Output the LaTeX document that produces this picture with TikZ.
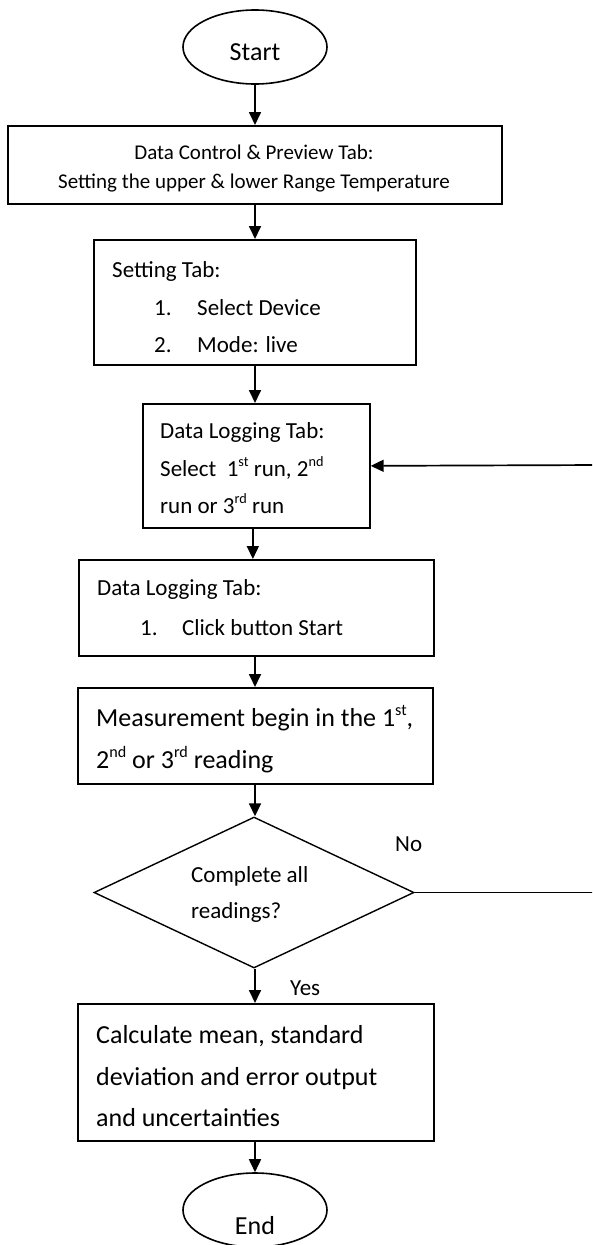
\documentclass[tikz,border=0pt]{standalone}
\usepackage{fontspec}
\setmainfont{Carlito}
\usetikzlibrary{arrows.meta,shapes.geometric}
% ordinal suffix, set small and raised
\newcommand\ordsup[1]{\raisebox{0.42em}{\scalebox{0.62}{#1}}}

\begin{document}
\begin{tikzpicture}[x=1pt,y=-1pt,
  box/.style={draw,line width=1.7pt,rectangle,inner sep=0pt,anchor=north west},
  term/.style={draw,line width=1.6pt,ellipse,minimum width=144pt,minimum height=74pt,inner sep=0pt},
  decision/.style={draw,line width=1.4pt,diamond,minimum width=320pt,minimum height=151pt,inner sep=0pt},
  flow/.style={line width=1.7pt,-{Triangle[length=13pt,width=12pt]}},
  link/.style={line width=1.2pt},
  txt/.style={anchor=base west,inner sep=0pt},
  ctxt/.style={anchor=base,inner sep=0pt},
  small/.style={font=\fontsize{21}{25}\selectfont},
  mid/.style={font=\fontsize{23}{28}\selectfont},
  large/.style={font=\fontsize{26}{31}\selectfont}
]
\clip (0,0) rectangle (592,1245);

% shapes
\node[term] (start) at (255,47) {};
\node[box,minimum width=494pt,minimum height=78pt] (b1) at (7,125) {};
\node[box,minimum width=322pt,minimum height=125pt] (b2) at (93,239) {};
\node[box,minimum width=227pt,minimum height=124pt] (b3) at (142,403) {};
\node[box,minimum width=355pt,minimum height=96pt] (b4) at (78,559) {};
\node[box,minimum width=355pt,minimum height=96pt] (b5) at (77,687) {};
\node[decision] (d) at (254,892.5) {};
\node[box,minimum width=356pt,minimum height=137pt] (b6) at (77,1003) {};
\node[term] (end) at (255,1210) {};

% texts
\node[ctxt,large] (tstart) at (255,60) {Start};
\node[ctxt,small] (t1a) at (254,159) {Data Control \& Preview Tab:};
\node[ctxt,small] (t1b) at (254,188) {Setting the upper \& lower Range Temperature};
\node[txt,mid] (t2a) at (112,277) {Setting Tab:};
\node[txt,mid] (t2b) at (154,315) {1.};
\node[txt,mid] (t2c) at (197,315) {Select Device};
\node[txt,mid] (t2d) at (154,352) {2.};
\node[txt,mid] (t2e) at (197,352) {Mode: live};
\node[txt,mid] (t3a) at (160,438) {Data Logging Tab:};
\node[txt,mid] (t3b) at (160,476) {Select\ \ 1\ordsup{st} run, 2\ordsup{nd}};
\node[txt,mid] (t3c) at (160,513) {run or 3\ordsup{rd} run};
\node[txt,mid] (t4a) at (97,595) {Data Logging Tab:};
\node[txt,mid] (t4b) at (140,635) {1.};
\node[txt,mid] (t4c) at (182,635) {Click button Start};
\node[txt,large] (t5a) at (96,726) {Measurement begin in the 1\ordsup{st},};
\node[txt,large] (t5b) at (96,768) {2\ordsup{nd} or 3\ordsup{rd} reading};
\node[txt,mid] (tda) at (191,882) {Complete all};
\node[txt,mid] (tdb) at (191,918) {readings?};
\node[txt,mid] (tno) at (395,851) {No};
\node[txt,mid] (tyes) at (290,995) {Yes};
\node[txt,large] (t6a) at (96,1043) {Calculate mean, standard};
\node[txt,large] (t6b) at (96,1085) {deviation and error output};
\node[txt,large] (t6c) at (96,1126) {and uncertainties};
\node[ctxt,large] (tend) at (255,1234) {End};

% connectors
\draw[flow] (start.south) -- (start.south |- b1.north);
\draw[flow] (b1.south -| start.south) -- (start.south |- b2.north);
\draw[flow] (b2.south -| start.south) -- (start.south |- b3.north);
\draw[flow] ([xshift=-3.5pt]b3.south) -- ([xshift=-3.5pt]b3.south |- b4.north);
\draw[flow] (b4.south -| start.south) -- (start.south |- b5.north);
\draw[flow] (b5.south -| start.south) -- (start.south |- d.north);
\draw[flow] (d.south -| start.south) -- (start.south |- b6.north);
\draw[flow] (b6.south -| start.south) -- (end.north);
\coordinate (back) at (600,465);
\draw[link] (d.east) -- (d.east -| back) -- (back);
\draw[flow] (back) -- (b3.east);
\end{tikzpicture}
\end{document}
